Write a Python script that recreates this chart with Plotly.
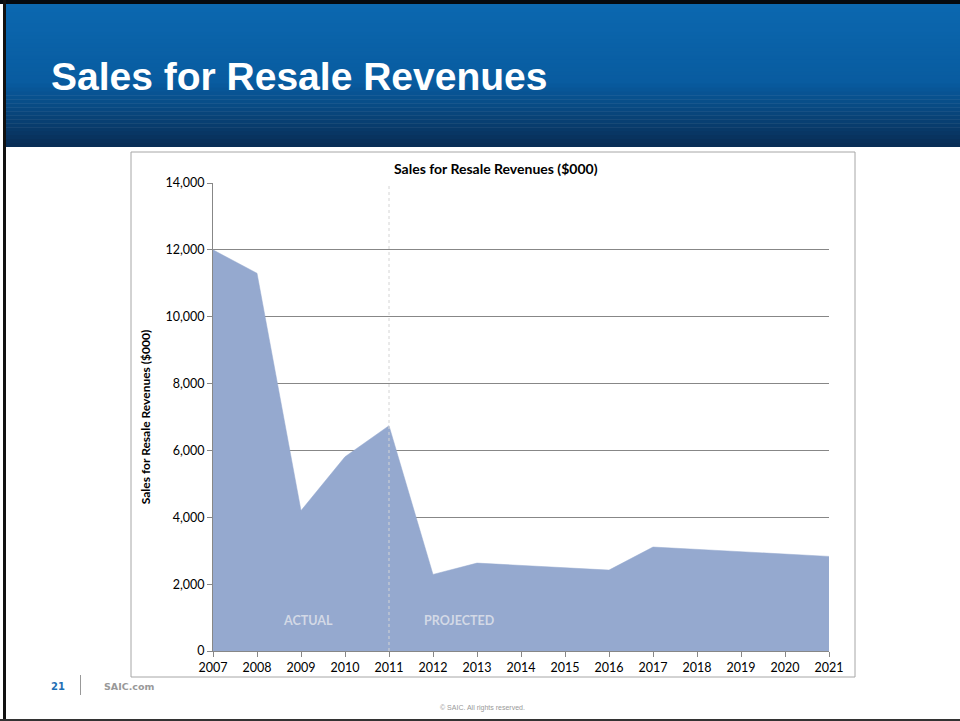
import plotly.graph_objects as go

years = list(range(2007, 2022))
revenues = [12000, 11300, 4200, 5810, 6740, 2290, 2630, 2560, 2490, 2420, 3110, 3040, 2970, 2900, 2830]
y_ticks = [0, 2000, 4000, 6000, 8000, 10000, 12000, 14000]
divider_year = 2011
labels = [("ACTUAL", 2009.15, 900), ("PROJECTED", 2012.6, 900)]

W, H = 960, 721
def px(x):
    return max(0.0, min(1.0, x / W))
def py(y):
    return max(0.0, min(1.0, 1 - y / H))

fig = go.Figure()
fig.add_trace(go.Scatter(
    x=years, y=revenues, mode="lines", fill="tozeroy",
    fillcolor="#95a9cf", line=dict(color="#95a9cf", width=0.5),
    hoverinfo="x+y", showlegend=False))

shapes = []
# banner gradient
top, bot = 4, 147
n = 36
c0 = (12, 104, 176)
c1 = (9, 92, 160)
c2 = (8, 46, 86)
for i in range(n):
    t = i / (n - 1)
    if t < 0.55:
        u = t / 0.55
        c = tuple(int(c0[k] + (c1[k] - c0[k]) * u) for k in range(3))
    else:
        u = (t - 0.55) / 0.45
        c = tuple(int(c1[k] + (c2[k] - c1[k]) * u) for k in range(3))
    y_a = top + (bot - top) * i / n
    y_b = min(bot, top + (bot - top) * (i + 1) / n + 0.5)
    shapes.append(dict(type="rect", xref="paper", yref="paper", x0=px(5), x1=px(960),
                       y0=py(y_b), y1=py(y_a), fillcolor="rgb(%d,%d,%d)" % c,
                       line=dict(width=0), layer="below"))
# slide border
shapes.append(dict(type="rect", xref="paper", yref="paper", x0=px(0), x1=px(960), y0=py(4), y1=py(0),
                   fillcolor="#050a10", line=dict(width=0), layer="below"))
shapes.append(dict(type="rect", xref="paper", yref="paper", x0=px(3), x1=px(6), y0=py(721), y1=py(0),
                   fillcolor="#111111", line=dict(width=0), layer="above"))
shapes.append(dict(type="rect", xref="paper", yref="paper", x0=px(0), x1=px(960), y0=py(721), y1=py(719),
                   fillcolor="#333333", line=dict(width=0), layer="above"))
# chart frame
shapes.append(dict(type="rect", xref="paper", yref="paper", x0=px(131), x1=px(855), y0=py(677), y1=py(152),
                   fillcolor="rgba(0,0,0,0)", line=dict(color="#a6a6a6", width=1), layer="below"))
# divider
shapes.append(dict(type="line", xref="x", yref="y", x0=divider_year, x1=divider_year, y0=0, y1=y_ticks[-1],
                   line=dict(color="#d4d4d4", width=1, dash="dot"), layer="above"))
# footer separator
shapes.append(dict(type="line", xref="paper", yref="paper", x0=px(80.5), x1=px(80.5), y0=py(675), y1=py(695),
                   line=dict(color="#999999", width=1)))

annotations = [
    dict(text="<b>Sales for Resale Revenues</b>", xref="paper", yref="paper", x=px(49), y=py(77),
         xanchor="left", yanchor="middle", showarrow=False,
         font=dict(family="Liberation Sans, Arial, sans-serif", size=39, color="white")),
    dict(text="<b>Sales for Resale Revenues ($000)</b>", xref="paper", yref="paper", x=px(496), y=py(168),
         xanchor="center", yanchor="middle", showarrow=False,
         font=dict(family="Lato, sans-serif", size=14, color="black")),
    dict(text="<b>21</b>", xref="paper", yref="paper", x=px(58), y=py(686), xanchor="center", yanchor="middle",
         showarrow=False, font=dict(family="DejaVu Sans, sans-serif", size=10, color="#1f6fb5")),
    dict(text="<b>SAIC.com</b>", xref="paper", yref="paper", x=px(102), y=py(686), xanchor="left", yanchor="middle",
         showarrow=False, font=dict(family="DejaVu Sans, sans-serif", size=9.5, color="#999999")),
    dict(text="© SAIC. All rights reserved.", xref="paper", yref="paper", x=px(482), y=py(708),
         xanchor="center", yanchor="middle", showarrow=False,
         font=dict(family="Liberation Sans, sans-serif", size=7, color="#999999")),
]
for txt, xv, yv in labels:
    annotations.append(dict(text="<b>%s</b>" % txt, x=xv, y=yv, xref="x", yref="y", showarrow=False,
                            xanchor="center", yanchor="middle",
                            font=dict(family="Lato, sans-serif", size=12.5, color="#d3d9e6")))

fig.update_layout(
    width=W, height=H, margin=dict(l=0, r=0, t=0, b=0, pad=0, autoexpand=False),
    paper_bgcolor="white", plot_bgcolor="white",
    shapes=shapes, annotations=annotations,
    font=dict(family="Lato, sans-serif", size=12, color="black"),
    xaxis=dict(domain=[px(213), px(829)], range=[2007, 2021], tickmode="array", tickvals=years,
               ticktext=[str(y) for y in years], showgrid=False, zeroline=False,
               showline=True, linecolor="#878787", linewidth=1, ticks="outside", ticklen=5,
               tickcolor="#878787", tickfont=dict(size=12.5), fixedrange=True, automargin=False),
    yaxis=dict(domain=[py(651), py(183)], range=[0, 14000], tickvals=y_ticks, tickformat=",",
               showgrid=True, gridcolor="#878787", gridwidth=1, zeroline=False,
               showline=True, linecolor="#878787", linewidth=1, ticks="outside", ticklen=5,
               tickcolor="#878787", tickfont=dict(size=12.5), automargin=False,
               title=dict(text="<b>Sales for Resale Revenues ($000)</b>", font=dict(size=12), standoff=12),
               fixedrange=True),
)
fig.update_yaxes(layer="below traces")
fig.write_html("out.html")
